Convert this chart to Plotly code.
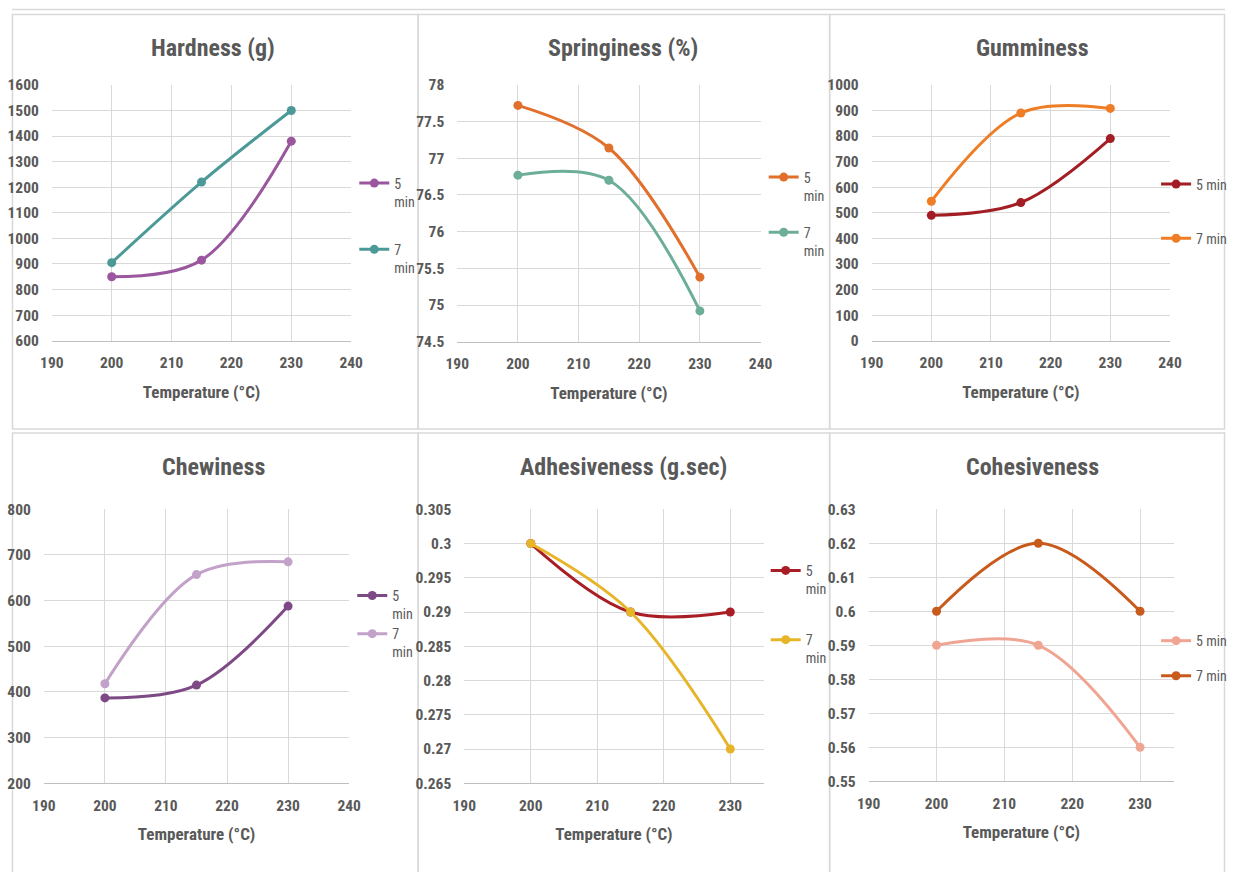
import plotly.graph_objects as go

# ---------------- data ----------------
temps = [200, 215, 230]

hard_5 = [850, 915, 1380]
hard_7 = [905, 1220, 1500]
spring_5 = [77.72, 77.14, 75.38]
spring_7 = [76.77, 76.70, 74.92]
gum_5 = [490, 540, 790]
gum_7 = [545, 890, 908]
chew_5 = [387, 415, 588]
chew_7 = [418, 657, 685]
adh_5 = [0.300, 0.290, 0.290]
adh_7 = [0.300, 0.290, 0.270]
coh_5 = [0.59, 0.59, 0.56]
coh_7 = [0.60, 0.62, 0.60]

titles = ["Hardness (g)", "Springiness (%)", "Gumminess",
          "Chewiness", "Adhesiveness (g.sec)", "Cohesiveness"]
x_title = "Temperature (°C)"
series_names_wrapped = ["5<br>min", "7<br>min"]
series_names_flat = ["5 min", "7 min"]

W, H = 1237, 872
FONT = "Liberation Sans Narrow, Arial Narrow, Roboto Condensed, DejaVu Sans Condensed, sans-serif"
TXT = "#595959"

# the photographed page is slightly scaled/padded; map target pixel positions to figure pixels
SX, OX = 0.9796, 12.2
SY, OY = 0.976, 9.4


def fx(r):
    return min(max((r - OX) / SX, 0.5), W - 0.5)


def fy(r):
    return min(max((r - OY) / SY, 0.5), H + 10)


panels = [
    dict(data=(hard_5, hard_7), colors=("#9A579E", "#4C9A98"), yr=(600, 1600), dy=100,
         xr=(190, 240), dom=(52, 351, 85, 340), title=(213, 48), names=series_names_wrapped,
         leg=((360, 182), (360, 248))),
    dict(data=(spring_5, spring_7), colors=("#E0702C", "#6DAE96"), yr=(74.5, 78), dy=0.5,
         xr=(190, 240), dom=(457, 760, 85, 341), title=(623, 48), names=series_names_wrapped,
         leg=((769, 176), (769, 231))),
    dict(data=(gum_5, gum_7), colors=("#A31D24", "#EE7D25"), yr=(0, 1000), dy=100,
         xr=(190, 240), dom=(871, 1169, 85, 340), title=(1032, 48), names=series_names_flat,
         leg=((1161, 183), (1161, 237))),
    dict(data=(chew_5, chew_7), colors=("#7E4A85", "#C3A2C9"), yr=(200, 800), dy=100,
         xr=(190, 240), dom=(44, 349, 508, 781), title=(213, 466), names=series_names_wrapped,
         leg=((358, 593), (358, 631))),
    dict(data=(adh_5, adh_7), colors=("#A81E24", "#E7B52A"), yr=(0.265, 0.305), dy=0.005,
         xr=(190, 235), dom=(464, 763, 508, 781), title=(623, 466), names=series_names_wrapped,
         leg=((771, 568), (771, 637))),
    dict(data=(coh_5, coh_7), colors=("#F0A592", "#C85A1C"), yr=(0.55, 0.63), dy=0.01,
         xr=(190, 235), dom=(868, 1173, 508, 779), title=(1032, 466), names=series_names_flat,
         leg=((1161, 638), (1161, 673))),
]

fig = go.Figure()
layout = dict(width=W, height=H, margin=dict(l=0, r=0, t=0, b=0),
              paper_bgcolor="white", plot_bgcolor="white",
              font=dict(family=FONT, color=TXT), showlegend=True)
annotations = []
shapes = []

legend_idx = 0
for i, p in enumerate(panels):
    ax = "" if i == 0 else str(i + 1)
    x0, x1, y0, y1 = p["dom"]
    layout["xaxis" + ax] = dict(
        domain=[fx(x0) / W, fx(x1) / W], range=list(p["xr"]), dtick=10, tick0=190,
        showgrid=True, gridcolor="#D9D9D9", gridwidth=1, zeroline=False,
        showline=True, linecolor="#BFBFBF", linewidth=1,
        tickfont=dict(family=FONT, size=15.5, color=TXT, weight="bold"),
        ticklabelstandoff=8,
        title=dict(text=x_title, font=dict(family=FONT, size=17, color=TXT, weight="bold"),
                   standoff=14),
        anchor="y" + ax, fixedrange=True)
    layout["yaxis" + ax] = dict(
        domain=[1 - fy(y1) / H, 1 - fy(y0) / H], range=list(p["yr"]), dtick=p["dy"],
        tick0=p["yr"][0],
        showgrid=True, gridcolor="#D9D9D9", gridwidth=1, zeroline=False,
        showline=False,
        tickfont=dict(family=FONT, size=15.5, color=TXT, weight="bold"),
        ticklabelstandoff=12,
        anchor="x" + ax, fixedrange=True)
    annotations.append(dict(text=titles[i], x=fx(p["title"][0]) / W, y=1 - fy(p["title"][1]) / H,
                            xref="paper", yref="paper", xanchor="center", yanchor="middle",
                            showarrow=False,
                            font=dict(family=FONT, size=24, color=TXT, weight="bold")))
    for k in range(2):
        legend_idx += 1
        lname = "legend" if legend_idx == 1 else "legend%d" % legend_idx
        fig.add_trace(go.Scatter(
            x=temps, y=p["data"][k], mode="lines+markers", name=p["names"][k],
            line=dict(color=p["colors"][k], width=3, shape="spline", smoothing=1.0),
            marker=dict(color=p["colors"][k], size=9),
            xaxis="x" + ax, yaxis="y" + ax, legend=lname, hoverinfo="skip"))
        lx, ly = p["leg"][k]
        layout[lname] = dict(x=(fx(lx) - 6) / W, y=1 - (fy(ly) - 15) / H,
                             xanchor="left", yanchor="top",
                             bgcolor="rgba(0,0,0,0)", borderwidth=0, valign="top",
                             itemwidth=30,
                             font=dict(family=FONT, size=14, color=TXT))

# panel borders
borders = [(9, 418, 15, 428), (418, 829, 15, 428), (829, 1235, 15, 428),
           (9, 418, 432, 885), (418, 829, 432, 885), (829, 1235, 432, 885)]
for bx0, bx1, by0, by1 in borders:
    shapes.append(dict(type="rect", xref="paper", yref="paper",
                       x0=fx(bx0) / W, x1=fx(bx1) / W, y0=1 - fy(by1) / H, y1=1 - fy(by0) / H,
                       line=dict(color="#D9D9D9", width=1.5), fillcolor="rgba(0,0,0,0)",
                       layer="below"))
shapes.append(dict(type="line", xref="paper", yref="paper", x0=0, x1=1,
                   y0=1 - fy(10) / H, y1=1 - fy(10) / H, line=dict(color="#D9D9D9", width=1.5)))

layout["annotations"] = annotations
layout["shapes"] = shapes
fig.update_layout(**layout)

page_js = ("document.documentElement.style.margin='0';"
           "document.documentElement.style.padding='0';"
           "document.body.style.margin='0';document.body.style.padding='0';"
           "document.body.style.overflow='hidden';"
           "document.documentElement.style.overflow='hidden';")
fig.write_html("out.html", post_script=page_js, config={"displayModeBar": False})
